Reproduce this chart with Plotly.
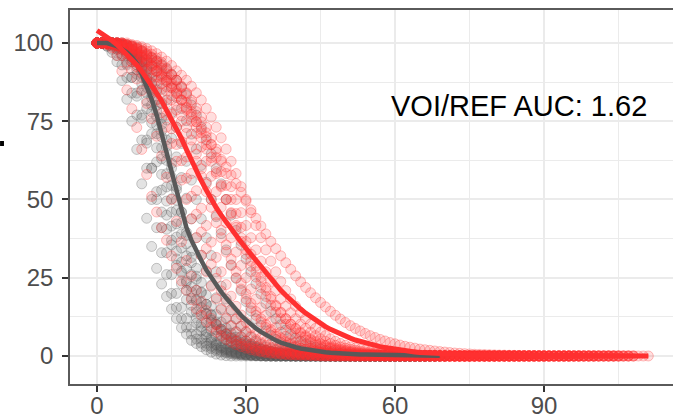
import plotly.graph_objects as go

# ---------------- data (percent volume vs dose, one point per dose unit) ----------------
ref_01 = [100, 100, 99, 97, 94, 88, 82, 75, 66, 55, 44, 35, 28, 23, 19, 15, 12, 9, 7, 5, 4, 3, 2, 1.2, 0.6, 0.3, 0.1,
          0, 0, 0, 0, 0, 0, 0, 0, 0, 0, 0, 0, 0, 0, 0, 0, 0, 0, 0, 0, 0, 0, 0, 0, 0, 0, 0, 0, 0, 0, 0, 0]
ref_02 = [100, 100, 100, 99, 98, 96, 93, 89, 84, 77, 69, 60, 50, 41, 33, 26, 20, 15.5, 12, 9.2, 7, 5.4, 4.1, 3.1, 2.4,
          1.8, 1.3, 1, 0.7, 0.5, 0.35, 0.25, 0.15, 0.1,
          0, 0, 0, 0, 0, 0, 0, 0, 0, 0, 0, 0, 0, 0, 0, 0, 0, 0, 0, 0, 0, 0, 0, 0, 0, 0, 0, 0, 0]
ref_03 = [100, 100, 100, 99.5, 98.5, 96.5, 93.5, 89, 83, 76, 68, 60, 52.5, 46, 40.5, 35.5, 31, 27, 23.5, 20.5, 18, 15.5,
          13.5, 11.5, 10, 8.5, 7.2, 6.1, 5.1, 4.3, 3.6, 3, 2.5, 2, 1.6, 1.3, 1, 0.8, 0.6, 0.45, 0.35, 0.25, 0.2, 0.15, 0.1,
          0, 0, 0, 0, 0, 0, 0, 0, 0, 0, 0, 0, 0, 0, 0, 0, 0, 0, 0, 0, 0]
ref_04 = [100, 100, 100, 100, 99, 98, 96, 94, 90, 85, 79, 71, 62, 53, 45, 37, 29, 23, 18, 14, 10.5, 8, 6, 4.5, 3.4, 2.5,
          1.8, 1.3, 0.9, 0.6, 0.4, 0.25, 0.15, 0.1,
          0, 0, 0, 0, 0, 0, 0, 0, 0, 0, 0, 0, 0, 0, 0, 0, 0, 0, 0, 0, 0, 0, 0, 0, 0, 0, 0, 0, 0, 0, 0]
ref_05 = [100, 100, 100, 100, 99.5, 99, 97.5, 95.5, 93, 89, 84, 78, 71, 63, 54, 46, 38, 30, 24, 18.5, 14, 10.5, 7.8, 5.8,
          4.3, 3.2, 2.4, 1.8, 1.3, 1, 0.7, 0.5, 0.35, 0.25, 0.15, 0.1,
          0, 0, 0, 0, 0, 0, 0, 0, 0, 0, 0, 0, 0, 0, 0, 0, 0, 0, 0, 0, 0, 0, 0, 0, 0, 0, 0, 0, 0, 0, 0]
ref_06 = [100, 100, 100, 100, 99.5, 99, 98, 96.5, 94.5, 91.5, 87.5, 82.5, 76.5, 70, 62.5, 54.5, 46.5, 39, 32, 26, 21, 17,
          13.5, 10.7, 8.4, 6.6, 5.2, 4.1, 3.2, 2.5, 2, 1.5, 1.2, 0.9, 0.7, 0.5, 0.4, 0.3, 0.2, 0.15, 0.1,
          0, 0, 0, 0, 0, 0, 0, 0, 0, 0, 0, 0, 0, 0, 0, 0, 0, 0, 0, 0, 0, 0, 0, 0, 0, 0, 0, 0]
ref_07 = [100, 100, 100, 100, 100, 99.5, 98.5, 97, 95, 92.5, 89, 85, 80, 74, 67, 60, 53, 46, 39.5, 33.5, 28, 23.5, 19.5,
          16, 13.2, 10.8, 8.9, 7.3, 6, 4.9, 4, 3.3, 2.7, 2.2, 1.8, 1.5, 1.2, 1, 0.8, 0.65, 0.5, 0.4, 0.3, 0.25, 0.2, 0.15,
          0.1, 0, 0, 0, 0, 0, 0, 0, 0, 0, 0, 0, 0, 0, 0, 0, 0, 0, 0, 0, 0, 0, 0, 0, 0]
ref_08 = [100, 100, 100, 100, 100, 99.5, 99, 98, 96.5, 94, 91, 87, 82, 76, 69, 61.5, 54, 46, 38.5, 31.5, 25.5, 20.5, 16.5,
          13, 10.2, 8, 6.2, 4.8, 3.7, 2.8, 2.1, 1.6, 1.2, 0.9, 0.65, 0.5, 0.35, 0.25, 0.2, 0.1,
          0, 0, 0, 0, 0, 0, 0, 0, 0, 0, 0, 0, 0, 0, 0, 0, 0, 0, 0, 0, 0, 0, 0, 0, 0, 0, 0, 0]
ref_09 = [100, 100, 100, 100, 99.5, 99, 98, 97, 95.3, 94, 92.4, 90.5, 88.1, 85.2, 81.8, 77.7, 73.1, 67.9, 62.2, 56.2, 50,
          43.8, 37.8, 32.1, 26.9, 22.3, 18.2, 14.8, 11.9, 9.5, 7.6, 6, 4.7, 3.7, 2.9, 2.3, 1.8, 1.4, 1.1, 0.9, 0.7, 0.55,
          0.4, 0.3, 0.25, 0.2, 0.15, 0.1, 0, 0, 0, 0, 0, 0, 0, 0, 0, 0, 0, 0, 0, 0, 0, 0, 0, 0, 0, 0, 0, 0]
ref_10 = [100, 100, 100, 100, 100, 99.5, 99, 98, 97, 96, 94.7, 93.5, 92, 90.2, 88.1, 85.6, 82.6, 79.1, 75.2, 70.9, 66.1,
          60.9, 55.5, 50, 44.5, 39.1, 33.9, 29.1, 24.8, 20.9, 17.4, 14.4, 11.9, 9.8, 8, 6.5, 5.3, 4.3, 3.5, 2.8, 2.2, 1.8,
          1.45, 1.15, 0.9, 0.75, 0.6, 0.45, 0.35, 0.3, 0.2, 0.15, 0.1, 0, 0, 0, 0, 0, 0, 0, 0, 0, 0, 0, 0, 0, 0, 0, 0, 0, 0]
ref_11 = [100, 100, 100, 100, 100, 100, 99.5, 99, 98.5, 97.5, 96.1, 95.3, 94.3, 93.1, 91.7, 90, 88.1, 85.8, 83.2, 80.2,
          76.9, 73.1, 69, 64.6, 59.9, 55, 50, 45, 40.1, 35.4, 31, 26.9, 23.1, 19.8, 16.8, 14.2, 11.9, 10, 8.3, 6.9, 5.7,
          4.7, 3.9, 3.2, 2.7, 2.2, 1.8, 1.5, 1.2, 1, 0.8, 0.65, 0.55, 0.45, 0.35, 0.3, 0.25, 0.2, 0.15, 0.1,
          0, 0, 0, 0, 0, 0, 0, 0, 0]
ref_12 = [100, 100, 99, 98, 96, 93, 89, 84, 77, 69, 60, 50, 41, 33, 26, 20, 15.5, 12, 9.2, 7, 5.4, 4.1, 3.1, 2.4, 1.8,
          1.3, 1, 0.7, 0.5, 0.35, 0.25, 0.15, 0.1,
          0, 0, 0, 0, 0, 0, 0, 0, 0, 0, 0, 0, 0, 0, 0, 0, 0, 0, 0, 0, 0, 0, 0, 0, 0, 0, 0, 0]
ref_13 = [100, 100, 100, 100, 99.2, 98.5, 96.8, 94.8, 91.5, 87, 81.5, 74.5, 66.5, 58, 49.5, 41.5, 33.5, 26.5, 21, 16.2,
          12.2, 9.2, 6.9, 5.1, 3.8, 2.8, 2.1, 1.5, 1.1, 0.8, 0.55, 0.4, 0.25, 0.15, 0.1,
          0, 0, 0, 0, 0, 0, 0, 0, 0, 0, 0, 0, 0, 0, 0, 0, 0, 0, 0, 0, 0, 0, 0, 0, 0, 0, 0, 0, 0]
ref_14 = [100, 100, 100, 100, 99.5, 99, 97.8, 96, 93.8, 90.2, 85.8, 80.2, 73.8, 66.5, 58.2, 50.2, 42.2, 34.5, 28, 22.2,
          17.5, 13.8, 10.6, 8.2, 6.3, 4.9, 3.8, 2.9, 2.2, 1.7, 1.3, 1, 0.75, 0.55, 0.4, 0.3, 0.2, 0.15, 0.1,
          0, 0, 0, 0, 0, 0, 0, 0, 0, 0, 0, 0, 0, 0, 0, 0, 0, 0, 0, 0, 0, 0, 0, 0, 0, 0, 0, 0]
ref_15 = [100, 100, 100, 100, 99.8, 99.2, 98.2, 96.8, 94.8, 92, 88.2, 83.8, 78.2, 72, 64.8, 57.2, 49.8, 42.5, 35.8, 29.8,
          24.5, 20.2, 16.5, 13.3, 10.8, 8.7, 7, 5.7, 4.6, 3.7, 3, 2.4, 1.9, 1.5, 1.2, 1, 0.8, 0.65, 0.5, 0.4, 0.3, 0.25,
          0.2, 0.15, 0.1, 0, 0, 0, 0, 0, 0, 0, 0, 0, 0, 0, 0, 0, 0, 0, 0, 0, 0, 0, 0, 0, 0, 0, 0, 0]
ref_16 = [100, 100, 100, 100, 99.8, 99.2, 98.5, 97.5, 95.9, 94, 91.7, 88.8, 85, 80.6, 75.4, 69.6, 63.6, 57, 50.4, 43.8,
          37.8, 32.2, 27.2, 22.6, 18.6, 15.2, 12.2, 9.8, 7.8, 6.2, 4.8, 3.8, 3, 2.3, 1.8, 1.4, 1.1, 0.8, 0.65, 0.5, 0.35,
          0.28, 0.2, 0.15, 0.12, 0.1, 0, 0, 0, 0, 0, 0, 0, 0, 0, 0, 0, 0, 0, 0, 0, 0, 0, 0, 0, 0, 0, 0, 0]

voi_01 = [100, 100, 99.5, 98.5, 96, 91, 85, 79, 73, 66, 58, 51, 46, 41, 37, 32, 28, 24, 21, 18, 15, 13, 11, 9.2, 7.7,
          6.4, 5.3, 4.4, 3.6, 3, 2.5, 2, 1.6, 1.3, 1.05, 0.85, 0.7, 0.55, 0.45, 0.35, 0.3, 0.25, 0.2, 0.15, 0.1,
          0, 0, 0, 0, 0, 0, 0, 0, 0, 0, 0, 0, 0, 0, 0, 0, 0, 0, 0, 0, 0, 0, 0, 0, 0, 0, 0, 0, 0, 0, 0]
voi_02 = [100, 100, 99.5, 99, 98, 96, 94, 91.5, 88.5, 84.7, 80.7, 75.8, 70.2, 63.9, 57.1, 50, 43, 36.5, 30.5, 25.5, 21,
          17.5, 14.5, 12, 10, 8.3, 6.9, 5.7, 4.7, 3.9, 3.2, 2.6, 2.1, 1.7, 1.4, 1.1, 0.9, 0.7, 0.55, 0.45, 0.35, 0.3, 0.25,
          0.2, 0.15, 0.1, 0, 0, 0, 0, 0, 0, 0, 0, 0, 0, 0, 0, 0, 0, 0, 0, 0, 0, 0, 0, 0, 0, 0, 0, 0, 0, 0, 0, 0, 0, 0,
          0, 0, 0, 0]
voi_03 = [100, 100, 100, 99.5, 99, 98, 96.5, 94, 92.4, 90.5, 88.1, 85.2, 81.8, 77.7, 73.1, 67.9, 62.2, 56.2, 50, 43.8,
          37.8, 32.1, 26.9, 22.3, 18.2, 14.8, 11.9, 9.5, 7.6, 6, 4.8, 3.9, 3.1, 2.5, 2, 1.6, 1.3, 1.05, 0.85, 0.7, 0.55,
          0.45, 0.35, 0.3, 0.25, 0.2, 0.15, 0.1, 0, 0, 0, 0, 0, 0, 0, 0, 0, 0, 0, 0, 0, 0, 0, 0, 0, 0, 0, 0, 0, 0, 0, 0,
          0, 0, 0, 0, 0, 0, 0, 0, 0, 0, 0, 0, 0, 0]
voi_04 = [100, 100, 100, 100, 99.5, 99, 98, 97, 95.5, 93.5, 91.5, 89.2, 86.9, 84.1, 80.9, 77.2, 73.1, 68.5, 63.6, 58.3,
          52.8, 47.2, 41.7, 36.4, 31.5, 26.9, 22.8, 19.1, 15.9, 13.1, 10.8, 8.9, 7.2, 5.8, 4.7, 3.8, 3.1, 2.5, 2, 1.6, 1.3,
          1.05, 0.85, 0.7, 0.55, 0.45, 0.35, 0.3, 0.25, 0.2, 0.15, 0.1, 0, 0, 0, 0, 0, 0, 0, 0, 0, 0, 0, 0, 0, 0, 0, 0,
          0, 0, 0, 0, 0, 0, 0, 0, 0, 0, 0, 0, 0, 0, 0, 0, 0, 0, 0, 0, 0, 0, 0]
voi_05 = [100, 100, 100, 100, 100, 99.5, 99, 98, 97, 95.5, 93.5, 91.5, 89.1, 87, 84.6, 81.8, 78.6, 75, 71.1, 66.8, 62.2,
          57.4, 52.5, 47.5, 42.6, 37.8, 33.2, 28.9, 25, 21.4, 18.2, 15.4, 13, 10.9, 9.1, 7.6, 6.3, 5.2, 4.3, 3.6, 2.9, 2.4,
          2, 1.6, 1.3, 1.1, 0.9, 0.75, 0.6, 0.5, 0.4, 0.33, 0.27, 0.22, 0.18, 0.15, 0.12, 0.1,
          0, 0, 0, 0, 0, 0, 0, 0, 0, 0, 0, 0, 0, 0, 0, 0, 0, 0, 0, 0, 0, 0, 0, 0, 0, 0, 0, 0, 0, 0, 0, 0, 0, 0, 0, 0, 0,
          0]
voi_06 = [100, 100, 100, 100, 100, 100, 99.5, 99, 98, 97, 95.8, 94.5, 93, 91.2, 89.1, 87, 84.6, 81.8, 78.6, 75, 71.1,
          66.8, 62.2, 57.4, 52.5, 47.5, 42.6, 37.8, 33.2, 28.9, 25, 21.4, 18.2, 15.4, 13, 10.9, 9.1, 7.6, 6.3, 5.2, 4.3,
          3.6, 2.9, 2.4, 2, 1.6, 1.3, 1.1, 0.9, 0.75, 0.6, 0.5, 0.4, 0.33, 0.27, 0.22, 0.18, 0.15, 0.12, 0.1,
          0, 0, 0, 0, 0, 0, 0, 0, 0, 0, 0, 0, 0, 0, 0, 0, 0, 0, 0, 0, 0, 0, 0, 0, 0, 0, 0, 0, 0, 0, 0, 0, 0, 0, 0, 0, 0,
          0, 0, 0, 0]
voi_07 = [100, 100, 100, 100, 100, 100, 99.5, 99.2, 98.8, 98.2, 97.4, 96.4, 95.2, 93.8, 92, 89.9, 88.1, 86, 83.8, 81,
          78.1, 74.8, 71.3, 67.5, 63.4, 58.9, 54.5, 50, 45.5, 41.1, 36.6, 32.5, 28.7, 25.2, 21.9, 19, 16.2, 14, 11.9, 10.1,
          8.6, 7.2, 6.1, 5.1, 4.3, 3.6, 3, 2.5, 2.1, 1.75, 1.45, 1.2, 1, 0.85, 0.7, 0.6, 0.5, 0.4, 0.33, 0.27, 0.22, 0.18,
          0.15, 0.12, 0.1, 0, 0, 0, 0, 0, 0, 0, 0, 0, 0, 0, 0, 0, 0, 0, 0, 0, 0, 0, 0, 0, 0, 0, 0, 0, 0, 0, 0, 0, 0, 0,
          0, 0, 0, 0, 0, 0, 0, 0, 0, 0]
voi_08 = [100, 100, 100, 99.5, 99.2, 98.8, 98.2, 97.5, 96.6, 95.5, 94.2, 92.8, 91.1, 89.7, 88.1, 86.2, 84.1, 81.8, 79.1,
          76.3, 73.1, 69.7, 66.1, 62.2, 58.3, 54.1, 50, 45.8, 41.7, 37.8, 33.9, 30.3, 26.9, 23.8, 20.9, 18.2, 15.9, 13.8,
          11.9, 10.2, 8.8, 7.6, 6.5, 5.5, 4.7, 4, 3.4, 2.9, 2.5, 2.1, 1.8, 1.5, 1.3, 1.1, 0.9, 0.8, 0.7, 0.6, 0.5, 0.42,
          0.36, 0.3, 0.25, 0.2, 0.17, 0.14, 0.12, 0.1, 0, 0, 0, 0, 0, 0, 0, 0, 0, 0, 0, 0, 0, 0, 0, 0, 0, 0, 0, 0, 0, 0,
          0, 0, 0, 0, 0, 0, 0, 0, 0, 0, 0, 0, 0, 0, 0, 0, 0, 0, 0]
voi_09 = [100, 100, 100, 99.8, 99.5, 99, 98.3, 97.5, 96.5, 95.3, 94, 92.5, 91, 89.3, 87.6, 85.8, 83.8, 81.7, 79.5, 77.2,
          74.8, 72.4, 70, 67.6, 65.2, 62.8, 60.4, 57.8, 55.1, 52.3, 49.5, 46.7, 44, 41.5, 39, 36.6, 34.3, 32, 29.8, 27.7,
          25.6, 23.7, 21.9, 20.2, 18.6, 17.1, 15.7, 14.3, 13, 11.8, 10.7, 9.7, 8.8, 8, 7.2, 6.5, 5.9, 5.3, 4.8, 4.3, 3.9,
          3.5, 3.1, 2.8, 2.5, 2.2, 2, 1.8, 1.6, 1.4, 1.25, 1.1, 0.95, 0.85, 0.75, 0.65, 0.55, 0.5, 0.45, 0.4, 0.35, 0.3,
          0.27, 0.24, 0.21, 0.18, 0.16, 0.14, 0.12, 0.1, 0, 0, 0, 0, 0, 0, 0, 0, 0, 0, 0, 0, 0, 0, 0, 0, 0, 0, 0, 0, 0, 0]
voi_10 = [100, 100, 100, 100, 100, 100, 100, 99.5, 99.2, 98.8, 98.2, 97.5, 96.6, 95.5, 94.2, 92.8, 91.1, 89.7, 88.1, 86.2,
          84.1, 81.8, 79.1, 76.3, 73.1, 69.7, 66.1, 62.2, 58.3, 54.1, 50, 45.8, 41.7, 37.8, 33.9, 30.3, 26.9, 23.8, 20.9,
          18.2, 15.9, 13.8, 11.9, 10.2, 8.8, 7.6, 6.5, 5.5, 4.7, 4, 3.4, 2.9, 2.5, 2.1, 1.8, 1.5, 1.3, 1.1, 0.9, 0.8, 0.7,
          0.6, 0.5, 0.42, 0.36, 0.3, 0.25, 0.2, 0.17, 0.14, 0.12, 0.1, 0, 0, 0, 0, 0, 0, 0, 0, 0, 0, 0, 0, 0, 0, 0, 0, 0,
          0, 0, 0, 0, 0, 0, 0, 0, 0, 0, 0, 0, 0, 0, 0, 0, 0, 0, 0, 0]
voi_11 = [100, 100, 100, 99.8, 99.2, 98.5, 97.2, 95.5, 94, 92, 89.8, 87.2, 84.4, 80.9, 77, 72.6, 67.6, 62.4, 56.8, 51,
          45.3, 39.6, 34.3, 29.4, 24.8, 20.8, 17.4, 14.3, 11.8, 9.6, 7.8, 6.4, 5.2, 4.2, 3.4, 2.7, 2.2, 1.8, 1.4, 1.15,
          0.9, 0.75, 0.6, 0.5, 0.4, 0.32, 0.25, 0.2, 0.15, 0.12, 0.1, 0, 0, 0, 0, 0, 0, 0, 0, 0, 0, 0, 0, 0, 0, 0, 0, 0,
          0, 0, 0, 0, 0, 0, 0, 0, 0, 0, 0, 0, 0, 0, 0, 0, 0, 0, 0, 0, 0]
voi_12 = [100, 100, 100, 100, 100, 99.8, 99.2, 98.5, 97.5, 96.2, 94.6, 92.8, 90.8, 88.6, 86, 83.2, 80.1, 76.8, 73, 69,
          64.5, 59.8, 55, 50, 45, 40.2, 35.5, 31, 27, 23.2, 19.8, 16.8, 14.2, 11.9, 10, 8.4, 7, 5.8, 4.8, 4, 3.2, 2.6,
          2.2, 1.8, 1.45, 1.2, 1, 0.82, 0.68, 0.55, 0.45, 0.37, 0.3, 0.25, 0.2, 0.16, 0.13, 0.1,
          0, 0, 0, 0, 0, 0, 0, 0, 0, 0, 0, 0, 0, 0, 0, 0, 0, 0, 0, 0, 0, 0, 0, 0, 0, 0, 0, 0, 0, 0, 0, 0, 0, 0, 0, 0, 0,
          0, 0, 0]
voi_13 = [100, 100, 100, 100, 100, 99.5, 99.2, 98.8, 98.2, 97.4, 96.4, 95.2, 93.8, 92, 89.9, 88.1, 86, 83.8, 81, 78.1,
          74.8, 71.3, 67.5, 63.4, 58.9, 54.5, 50, 45.5, 41.1, 36.6, 32.5, 28.7, 25.2, 21.9, 19, 16.2, 14, 11.9, 10.1, 8.6,
          7.2, 6.1, 5.1, 4.3, 3.6, 3, 2.5, 2.1, 1.75, 1.45, 1.2, 1, 0.85, 0.7, 0.6, 0.5, 0.4, 0.33, 0.27, 0.22, 0.18, 0.15,
          0.12, 0.1, 0, 0, 0, 0, 0, 0, 0, 0, 0, 0, 0, 0, 0, 0, 0, 0, 0, 0, 0, 0, 0, 0, 0, 0, 0, 0, 0, 0, 0, 0, 0, 0, 0,
          0, 0, 0, 0, 0, 0, 0, 0]
voi_14 = [100, 100, 100, 100, 100, 99.5, 99.2, 98.8, 98.2, 97.5, 96.6, 95.5, 94.2, 92.8, 91.1, 89.7, 88.1, 86.2, 84.1,
          81.8, 79.1, 76.3, 73.1, 69.7, 66.1, 62.2, 58.3, 54.1, 50, 45.8, 41.7, 37.8, 33.9, 30.3, 26.9, 23.8, 20.9, 18.2,
          15.9, 13.8, 11.9, 10.2, 8.8, 7.6, 6.5, 5.5, 4.7, 4, 3.4, 2.9, 2.5, 2.1, 1.8, 1.5, 1.3, 1.1, 0.9, 0.8, 0.7, 0.6,
          0.5, 0.42, 0.36, 0.3, 0.25, 0.2, 0.17, 0.14, 0.12, 0.1, 0, 0, 0, 0, 0, 0, 0, 0, 0, 0, 0, 0, 0, 0, 0, 0, 0, 0,
          0, 0, 0, 0, 0, 0, 0, 0, 0, 0, 0, 0, 0, 0, 0, 0, 0, 0, 0, 0]

ref_fit = [100, 100, 100, 99.5, 99, 98, 97, 95.5, 93.5, 90,
           86, 82, 77, 71, 65, 58, 52, 46, 41, 37,
           33.5, 30.5, 27.5, 25, 22.5, 20.5, 18.5, 16.5, 14.5, 13,
           11.5, 10, 8.8, 7.7, 6.7, 5.8, 5, 4.3, 3.7, 3.2,
           2.8, 2.4, 2.1, 1.8, 1.6, 1.4, 1.2, 1.05, 0.9, 0.8,
           0.7, 0.62, 0.55, 0.5, 0.45, 0.4, 0.36, 0.33, 0.3, 0.27,
           0.24, 0.22, 0.2, 0.18, 0.16, 0.14, 0.12, 0.1, 0.08, 0.05]
voi_fit = [104, 103, 102, 100.8, 99.5, 98, 96.5, 95, 93, 91,
           88.8, 86.5, 84, 81.5, 78.7, 75.8, 72.8, 69.5, 66, 62.5,
           59, 56, 53, 50, 47.4, 45, 42.7, 40.5, 38.4, 36.4,
           34.4, 32.4, 30.4, 28.5, 26.5, 24.6, 22.8, 21, 19.4, 17.8,
           16.3, 15, 13.7, 12.5, 11.4, 10.3, 9.4, 8.5, 7.7, 7,
           6.3, 5.7, 5.1, 4.6, 4.1, 3.7, 3.3, 3, 2.7, 2.4,
           2.1, 1.9, 1.7, 1.5, 1.3, 1.1, 1, 0.9, 0.8, 0.7,
           0.6, 0.55, 0.5, 0.46, 0.42, 0.38, 0.35, 0.32, 0.29, 0.27,
           0.25, 0.23, 0.21, 0.2, 0.18, 0.17, 0.16, 0.15, 0.14, 0.13,
           0.12, 0.11, 0.1, 0.1, 0.09, 0.08, 0.08, 0.07, 0.07, 0.06,
           0.06, 0.05, 0.05, 0.05, 0.04, 0.04, 0.04, 0.03, 0.03, 0.03,
           0.02, 0.02]

x_ticks = [0, 30, 60, 90]
y_ticks = [0, 25, 50, 75, 100]
x_minor = [15, 45, 75, 105]
y_minor = [12.5, 37.5, 62.5, 87.5]
annotation_text = "VOI/REF AUC: 1.62"

ref_curves = [ref_01, ref_02, ref_03, ref_04, ref_05, ref_06, ref_07, ref_08,
              ref_09, ref_10, ref_11, ref_12, ref_13, ref_14, ref_15, ref_16]
voi_curves = [voi_01, voi_02, voi_03, voi_04, voi_05, voi_06, voi_07,
              voi_08, voi_09, voi_10, voi_11, voi_12, voi_13, voi_14]

GRAY = "89,89,89"
RED = "255,48,48"
FONT = "Liberation Sans, Arial, Helvetica, sans-serif"

fig = go.Figure()


def add_points(curves, rgb, fill_a, line_a):
    for ys in curves:
        fig.add_trace(go.Scatter(
            x=list(range(len(ys))), y=ys, mode="markers",
            marker=dict(size=10, color=f"rgba({rgb},{fill_a})",
                        line=dict(width=1, color=f"rgba({rgb},{line_a})")),
            showlegend=False, hoverinfo="skip"))


add_points(ref_curves, GRAY, 0.17, 0.32)
add_points(voi_curves, RED, 0.16, 0.3)

fig.add_trace(go.Scatter(x=list(range(len(ref_fit))), y=ref_fit, mode="lines",
                         line=dict(color=f"rgb({GRAY})", width=4.5), showlegend=False, hoverinfo="skip"))
fig.add_trace(go.Scatter(x=list(range(len(voi_fit))), y=voi_fit, mode="lines",
                         line=dict(color=f"rgb({RED})", width=5), showlegend=False, hoverinfo="skip"))

fig.add_annotation(x=85, y=80, text=annotation_text, showarrow=False,
                   font=dict(family=FONT, size=29, color="black"), xanchor="center", yanchor="middle")

# small fragment of a clipped element at the left edge
fig.add_shape(type="rect", xref="paper", yref="paper", x0=-0.116, x1=-0.1095, y0=0.6364, y1=0.6497,
              fillcolor="black", line=dict(width=0))

axis_common = dict(
    showgrid=True, gridcolor="#EBEBEB", gridwidth=1.5, zeroline=False, automargin=False,
    ticks="outside", ticklen=6, tickwidth=1.5, tickcolor="#333333",
    tickfont=dict(family=FONT, size=24, color="#4D4D4D"),
    showline=True, linecolor="#5a5a5a", linewidth=1.5,
)

fig.update_layout(
    width=673, height=419,
    margin=dict(l=70, r=0, t=10, b=35),
    paper_bgcolor="white", plot_bgcolor="white",
    xaxis=dict(range=[-5.44, 115.97], tickvals=x_ticks, mirror=True, ticklabelstandoff=-7,
               minor=dict(tickvals=x_minor, showgrid=True, gridcolor="#EBEBEB", gridwidth=1, ticks=""),
               **axis_common),
    yaxis=dict(range=[-8.95, 110.54], tickvals=y_ticks, mirror=False, ticklabelstandoff=4,
               minor=dict(tickvals=y_minor, showgrid=True, gridcolor="#EBEBEB", gridwidth=1, ticks=""),
               **axis_common),
    hovermode=False,
)

fig.write_html("out.html", config={"displayModeBar": False})
